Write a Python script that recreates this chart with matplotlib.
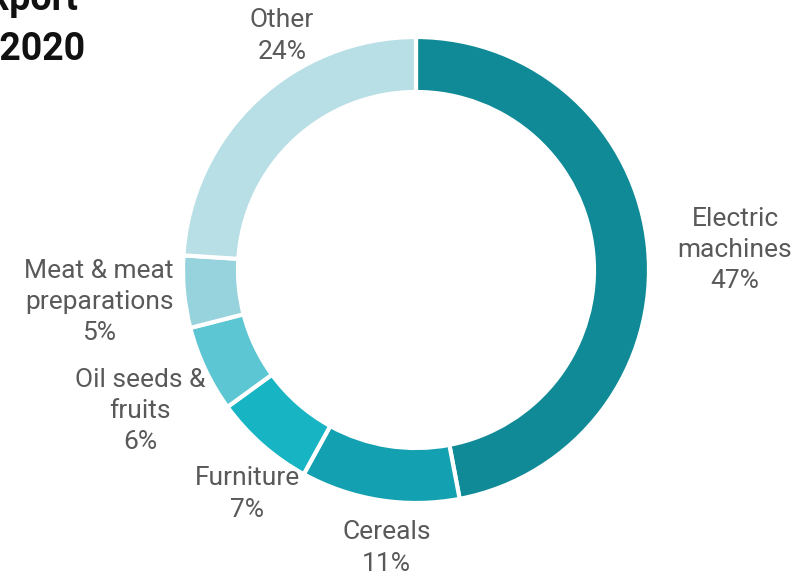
import numpy as np
import matplotlib
matplotlib.use("Agg")
import matplotlib.pyplot as plt

plt.rcParams["font.family"] = ["Roboto", "DejaVu Sans"]

# data
categories = ["Electric\nmachines", "Cereals", "Furniture", "Oil seeds &\nfruits",
              "Meat & meat\npreparations", "Other"]
shares = [47, 11, 7, 6, 5, 24]
colors = ["#108A96", "#13A0B0", "#17B5C4", "#5CC6D2", "#96D3DC", "#B7DFE5"]

# label placement (angle in degrees, distance in radii)
label_angle = [3.6, -96, -127, -152.9, -174.2, 119.8]
label_dist = [1.372, 1.2, 1.204, 1.33, 1.367, 1.157]

W, H = 800, 577
CX, CY, R = 416, 270, 233

fig = plt.figure(figsize=(W / 100, H / 100), dpi=100)
ax = fig.add_axes([0, 0, 1, 1])

ax.pie(shares, colors=colors, startangle=90, counterclock=False, radius=1,
       wedgeprops=dict(width=0.236, edgecolor="white", linewidth=3))

ax.set_xlim(-CX / R, (W - CX) / R)
ax.set_ylim(-(H - CY) / R, CY / R)
ax.set_aspect("equal")
ax.axis("off")

for cat, val, a, d in zip(categories, shares, label_angle, label_dist):
    t = np.deg2rad(a)
    ax.text(d * np.cos(t), d * np.sin(t), f"{cat}\n{val}%", ha="center", va="center",
            fontsize=19, color="#595959", linespacing=1.38)

# title (partly outside the canvas, as in the source)
fig.text(78 / W, 1 - 10 / H, "Export", ha="right", va="baseline",
         fontsize=27, fontweight="bold", color="#111111")
fig.text(85 / W, 1 - 60 / H, "in 2020", ha="right", va="baseline",
         fontsize=27, fontweight="bold", color="#111111")

fig.savefig("out.png", dpi=100)
